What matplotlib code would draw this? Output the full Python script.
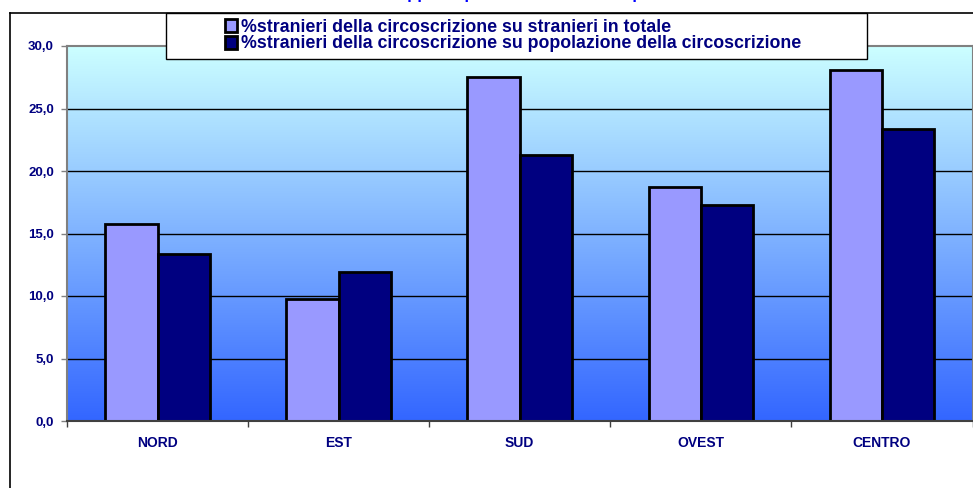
import numpy as np
import matplotlib
matplotlib.use("Agg")
import matplotlib.pyplot as plt
from matplotlib.patches import Rectangle
from matplotlib.lines import Line2D
from matplotlib.colors import LinearSegmentedColormap

categories = ["NORD", "EST", "SUD", "OVEST", "CENTRO"]
series_names = ["%stranieri della circoscrizione su stranieri in totale",
                "%stranieri della circoscrizione su popolazione della circoscrizione"]
pct_totale = [15.8, 9.8, 27.5, 18.7, 28.1]
pct_popolazione = [13.4, 11.9, 21.3, 17.3, 23.4]
yticks = [0, 5, 10, 15, 20, 25, 30]
ytick_labels = ["0,0", "5,0", "10,0", "15,0", "20,0", "25,0", "30,0"]
title = "Rapporto percentuale stranieri per circoscrizione"

W, H = 973, 488
fig = plt.figure(figsize=(W / 100, H / 100), dpi=100)
fig.patch.set_facecolor("white")
plt.rcParams['font.family'] = ['Liberation Sans', 'DejaVu Sans']

left, right, top, bottom = 67, 972.5, 46, 421
ax = fig.add_axes([left / W, 1 - bottom / H, (right - left) / W, (bottom - top) / H])

x = np.arange(len(categories))
ax.set_xlim(-0.5, len(categories) - 0.5)
ax.set_ylim(0, 30)

# gradient background
cmap = LinearSegmentedColormap.from_list("bg", ["#3366FF", "#CCFFFF"])
grad = np.linspace(0, 1, 256).reshape(-1, 1)
ax.imshow(grad, extent=[-0.5, len(categories) - 0.5, 0, 30], origin="lower",
          aspect="auto", cmap=cmap, zorder=0)

for yv in yticks[1:-1]:
    ax.axhline(yv, color="black", lw=1.0, zorder=1)

bw = 0.289
b1 = ax.bar(x - bw / 2, pct_totale, bw, color="#9999FF", edgecolor="black",
            lw=2.0, zorder=2, label=series_names[0])
b2 = ax.bar(x + bw / 2, pct_popolazione, bw, color="#000080", edgecolor="black",
            lw=2.0, zorder=2, label=series_names[1])

ax.set_yticks(yticks)
ax.set_yticklabels(ytick_labels)
ax.tick_params(axis="y", direction="out", length=4, width=1, color="#808080",
               pad=5.5, labelsize=9.5, labelcolor="#000080")
for t in ax.get_yticklabels():
    t.set_fontweight("bold")

ax.set_xticks(np.arange(-0.5, len(categories), 1.0))
ax.set_xticklabels([])
ax.tick_params(axis="x", which="major", direction="out", length=4, width=1,
               color="#404040")
ax.set_xticks(x, minor=True)
ax.set_xticklabels(categories, minor=True)
ax.tick_params(axis="x", which="minor", length=0, pad=11, labelsize=10,
               labelcolor="#000080")
for t in ax.get_xticklabels(minor=True):
    t.set_fontweight("bold")

for s in ["top", "left", "right"]:
    ax.spines[s].set_color("#808080")
    ax.spines[s].set_linewidth(1.5)
ax.spines["bottom"].set_color("#404040")
ax.spines["bottom"].set_linewidth(1.5)

# outer chart frame
fig.add_artist(Line2D([9.5 / W, 9.5 / W], [0, 1 - 12.7 / H], color="black", lw=1.2))
fig.add_artist(Line2D([9.5 / W, 1], [1 - 12.7 / H, 1 - 12.7 / H], color="black", lw=1.2))

# title (mostly outside the visible area, as in the reference)
fig.text(580 / W, 1 + 1.0 / H, title, ha="center", va="baseline",
         fontsize=12, fontweight="bold", color="#0000FF")

# legend box
lx0, lx1, ly0, ly1 = 166, 867, 12.7, 59.3
fig.add_artist(Rectangle((lx0 / W, 1 - ly1 / H), (lx1 - lx0) / W, (ly1 - ly0) / H,
                         transform=fig.transFigure, facecolor="white",
                         edgecolor="black", lw=1.0, zorder=5))
leg = fig.legend(handles=[b1, b2], loc="upper left",
                 bbox_to_anchor=(225 / W, 1 - 18.5 / H), frameon=False,
                 fontsize=12.8, handlelength=0.7, handleheight=0.7,
                 handletextpad=0.18, labelspacing=0.0, borderpad=0,
                 borderaxespad=0)
leg.set_zorder(6)
for t in leg.get_texts():
    t.set_color("#000080")
    t.set_fontweight("bold")

fig.savefig("out.png", dpi=100)
